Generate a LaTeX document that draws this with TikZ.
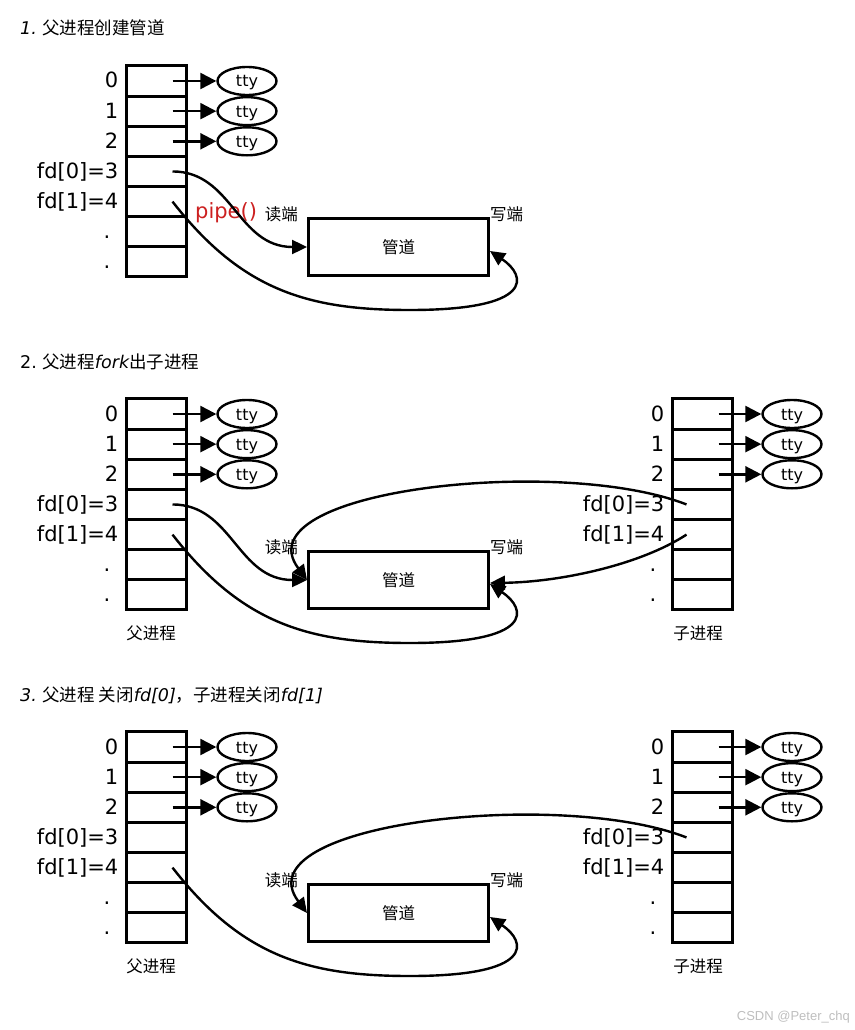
\documentclass[tikz,border=0pt]{standalone}
\usepackage{fontspec}
\setmainfont{DejaVu Sans}
\newfontfamily\cjk{Noto Sans CJK SC}
\newfontfamily\marksans{Liberation Sans}
\usetikzlibrary{calc, positioning}
\usetikzlibrary{arrows.meta}
\usetikzlibrary{shapes.geometric}

\definecolor{pipered}{RGB}{204,32,32}
\definecolor{markgray}{RGB}{190,190,190}

\begin{document}
\begin{tikzpicture}[x=1pt, y=-1pt,
  cell/.style={draw, line width=3pt, minimum width=60pt, minimum height=30.15pt, inner sep=0pt},
  tty/.style={draw, ellipse, line width=2.4pt, minimum width=59pt, minimum height=28pt, inner sep=0pt,
    text height=12pt, text depth=0pt, font=\fontsize{16}{16}\selectfont},
  fdlabel/.style={anchor=base east, inner sep=0pt, font=\fontsize{21}{21}\selectfont},
  pipebox/.style={draw, line width=3pt, minimum width=180pt, minimum height=57pt, font=\cjk\fontsize{16.5}{16.5}\selectfont},
  cjklabel/.style={inner sep=0pt, font=\cjk\fontsize{16.5}{16.5}\selectfont},
  title/.style={anchor=base west, inner sep=0pt, font=\fontsize{17.5}{17.5}\selectfont},
  ptr/.style={line width=2.4pt, -{Triangle[length=16pt, width=16pt]}},
  flow/.style={line width=2.4pt, -{Triangle[length=15pt, width=14pt]}}]
\useasboundingbox (0,0) rectangle (854,1030);

\node[title] at (20,35) {{\itshape 1.}\ {\cjk 父进程创建管道}};
\node[title] at (20,368) {2.\ {\cjk 父进程}{\itshape fork}{\cjk 出子进程}};
\node[title] at (20,701) {{\itshape 3.}\ {\cjk 父进程 关闭}{\itshape fd[0]}{\cjk ，子进程关闭}{\itshape fd[1]}};

% parent side, one per panel
\foreach \k/\dy in {1/0, 2/333, 3/666} {
  \begin{scope}[shift={(0,\dy)}]
  \foreach \r in {0,...,6}
    \node[cell] (P\k-\r) at (156, {81+30.15*\r}) {};
  \foreach \r/\t in {0/0, 1/1, 2/2, 3/{fd[0]=3}, 4/{fd[1]=4}}
    \node[fdlabel] at ([xshift=-6pt, yshift=-7pt]P\k-\r.west) {\t};
  \foreach \r in {5,6}
    \node[fdlabel] at ([xshift=-14pt, yshift=-7pt]P\k-\r.west) {.};
  \foreach \r in {0,1,2} {
    \node[tty] (PT\k-\r) at (247, {81+30.15*\r}) {tty};
    \draw[ptr] ([xshift=-15pt]P\k-\r.east) -- (PT\k-\r.west);
  }
  \node[pipebox] (pipe\k) at (398.5, 247) {管道};
  \node[cjklabel, anchor=south east] at ([xshift=-9pt, yshift=-5pt]pipe\k.north west) {读端};
  \node[cjklabel, anchor=south west] at ([yshift=-5pt]pipe\k.north east) {写端};
  \end{scope}
}

% child side
\foreach \k/\dy in {2/333, 3/666} {
  \begin{scope}[shift={(0,\dy)}]
  \foreach \r in {0,...,6}
    \node[cell] (C\k-\r) at (702, {81+30.15*\r}) {};
  \foreach \r/\t in {0/0, 1/1, 2/2, 3/{fd[0]=3}, 4/{fd[1]=4}}
    \node[fdlabel] at ([xshift=-6pt, yshift=-7pt]C\k-\r.west) {\t};
  \foreach \r in {5,6}
    \node[fdlabel] at ([xshift=-14pt, yshift=-7pt]C\k-\r.west) {.};
  \foreach \r in {0,1,2} {
    \node[tty] (CT\k-\r) at (792, {81+30.15*\r}) {tty};
    \draw[ptr] ([xshift=-15pt]C\k-\r.east) -- (CT\k-\r.west);
  }
  \node[cjklabel, below=14pt of P\k-6, xshift=-5pt] (pcap\k) {父进程};
  \node[cjklabel, below=14pt of C\k-6, xshift=-4pt] (ccap\k) {子进程};
  \end{scope}
}

\node[anchor=base west, inner sep=0pt, text=pipered, font=\fontsize{21}{21}\selectfont] (pipecall) at (195,218) {pipe()};

% panel 1
\draw[flow] ([xshift=-15pt]P1-3.east) .. controls +(60,0) and +(-70,0) .. (pipe1.west);
\draw[flow] ([xshift=-15pt]P1-4.east) .. controls +(70,90) and +(-100,0) .. (410,310)
  .. controls +(125,0) and +(37,25) .. ([yshift=-4pt]pipe1.east);

% panel 2
\draw[flow] ([xshift=-15pt]P2-3.east) .. controls +(60,0) and +(-70,0) .. (pipe2.west);
\draw[flow] ([xshift=-15pt]P2-4.east) .. controls +(70,90) and +(-100,0) .. (410,643)
  .. controls +(125,0) and +(37,25) .. ([yshift=-4pt]pipe2.east);
\draw[flow] ([xshift=16pt]C2-3.west) .. controls (560,455) and (240,490) .. (pipe2.west);
\draw[flow] ([xshift=16pt]C2-4.west) .. controls (640,565) and (560,582) .. ([yshift=-3pt]pipe2.east);

% panel 3
\draw[flow] ([xshift=-15pt]P3-4.east) .. controls +(70,90) and +(-100,0) .. (410,976)
  .. controls +(125,0) and +(37,25) .. ([yshift=-4pt]pipe3.east);
\draw[flow] ([xshift=16pt]C3-3.west) .. controls (560,788) and (240,823) .. (pipe3.west);

\node[anchor=east, inner sep=0pt, text=markgray, font=\marksans\fontsize{13}{13}\selectfont] (mark) at (850,1017) {CSDN @Peter\_chq};
\end{tikzpicture}
\end{document}
